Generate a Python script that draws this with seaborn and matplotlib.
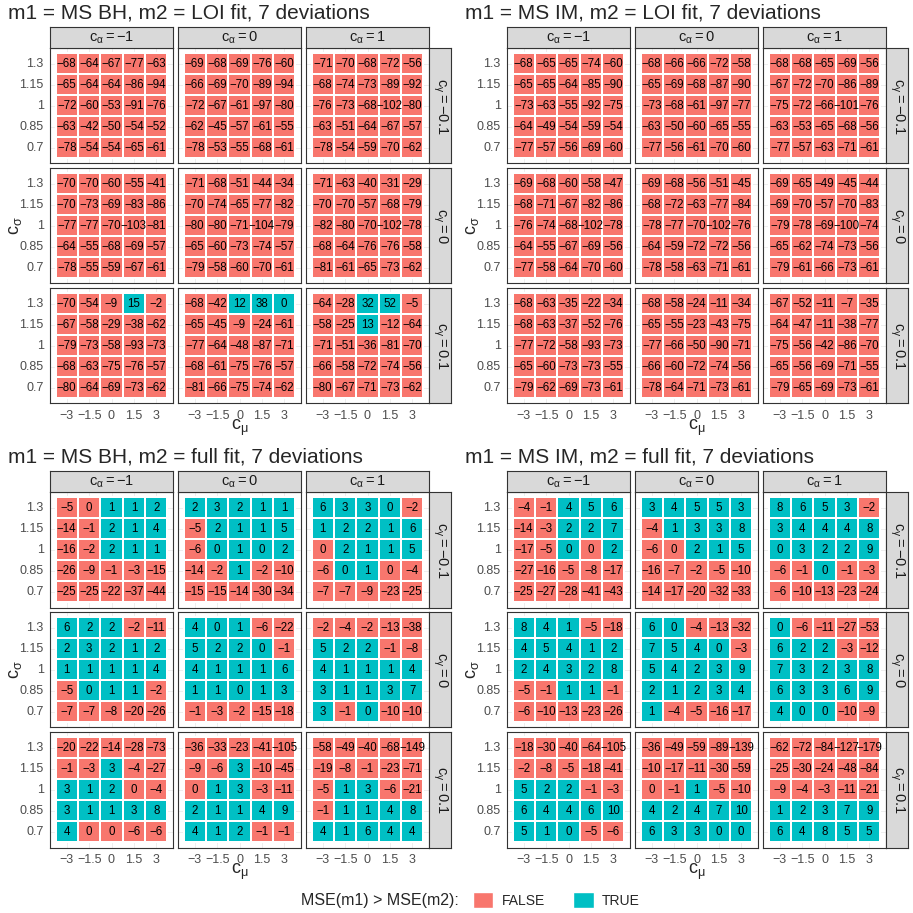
import numpy as np
import pandas as pd
import matplotlib
matplotlib.use("Agg")
import matplotlib.pyplot as plt
from matplotlib.colors import ListedColormap
from matplotlib.patches import Patch
import seaborn as sns

# axes of every facet grid
c_mu = [-3, -1.5, 0, 1.5, 3]
c_sigma = [1.3, 1.15, 1, 0.85, 0.7]
c_alpha = ["-1", "0", "1"]
c_gamma = ["-0.1", "0", "0.1"]

titles = ["m1 = MS BH, m2 = LOI fit, 7 deviations",
          "m1 = MS IM, m2 = LOI fit, 7 deviations",
          "m1 = MS BH, m2 = full fit, 7 deviations",
          "m1 = MS IM, m2 = full fit, 7 deviations"]

# values: [c_gamma row][c_alpha col][c_sigma row][c_mu col]
# +/-0.4 marks a cell printed as 0 but coloured TRUE/FALSE
bh_loi = [
    [[[-68, -64, -67, -77, -63], [-65, -64, -64, -86, -94], [-72, -60, -53, -91, -76], [-63, -42, -50, -54, -52], [-78, -54, -54, -65, -61]],
     [[-69, -68, -69, -76, -60], [-66, -69, -70, -89, -94], [-72, -67, -61, -97, -80], [-62, -45, -57, -61, -55], [-78, -53, -55, -68, -61]],
     [[-71, -70, -68, -72, -56], [-68, -74, -73, -89, -92], [-76, -73, -68, -102, -80], [-63, -51, -64, -67, -57], [-78, -54, -59, -70, -62]]],
    [[[-70, -70, -60, -55, -41], [-70, -73, -69, -83, -86], [-77, -77, -70, -103, -81], [-64, -55, -68, -69, -57], [-78, -55, -59, -67, -61]],
     [[-71, -68, -51, -44, -34], [-70, -74, -65, -77, -82], [-80, -80, -71, -104, -79], [-65, -60, -73, -74, -57], [-79, -58, -60, -70, -61]],
     [[-71, -63, -40, -31, -29], [-70, -70, -57, -68, -79], [-82, -80, -70, -102, -78], [-68, -64, -76, -76, -58], [-81, -61, -65, -73, -62]]],
    [[[-70, -54, -9, 15, -2], [-67, -58, -29, -38, -62], [-79, -73, -58, -93, -73], [-68, -63, -75, -76, -57], [-80, -64, -69, -73, -62]],
     [[-68, -42, 12, 38, 0.4], [-65, -45, -9, -24, -61], [-77, -64, -48, -87, -71], [-68, -61, -75, -76, -57], [-81, -66, -75, -74, -62]],
     [[-64, -28, 32, 52, -5], [-58, -25, 13, -12, -64], [-71, -51, -36, -81, -70], [-66, -58, -72, -74, -56], [-80, -67, -71, -73, -62]]],
]

im_loi = [
    [[[-68, -65, -65, -74, -60], [-65, -65, -64, -85, -90], [-73, -63, -55, -92, -75], [-64, -49, -54, -59, -54], [-77, -57, -56, -69, -60]],
     [[-68, -66, -66, -72, -58], [-65, -69, -68, -87, -90], [-73, -68, -61, -97, -77], [-63, -50, -60, -65, -55], [-77, -56, -61, -70, -60]],
     [[-68, -68, -65, -69, -56], [-67, -72, -70, -86, -89], [-75, -72, -66, -101, -76], [-63, -53, -65, -68, -56], [-77, -57, -63, -71, -61]]],
    [[[-69, -68, -60, -58, -47], [-68, -71, -67, -82, -86], [-76, -74, -68, -102, -78], [-64, -55, -67, -69, -56], [-77, -58, -64, -70, -60]],
     [[-69, -68, -56, -51, -45], [-68, -72, -63, -77, -84], [-78, -77, -70, -102, -76], [-64, -59, -72, -72, -56], [-78, -58, -63, -71, -61]],
     [[-69, -65, -49, -45, -44], [-69, -70, -57, -70, -83], [-79, -78, -69, -100, -74], [-65, -62, -74, -73, -56], [-79, -61, -66, -73, -61]]],
    [[[-68, -63, -35, -22, -34], [-68, -63, -37, -52, -76], [-77, -72, -58, -93, -73], [-65, -60, -73, -73, -55], [-79, -62, -69, -73, -61]],
     [[-68, -58, -24, -11, -34], [-65, -55, -23, -43, -75], [-77, -66, -50, -90, -71], [-66, -60, -72, -74, -56], [-78, -64, -71, -73, -61]],
     [[-67, -52, -11, -7, -35], [-64, -47, -11, -38, -77], [-75, -56, -42, -86, -70], [-65, -56, -69, -71, -55], [-79, -65, -69, -73, -61]]],
]

bh_full = [
    [[[-5, -0.4, 1, 1, 2], [-14, -1, 2, 1, 4], [-16, -2, 2, 1, 1], [-26, -9, -1, -3, -15], [-25, -25, -22, -37, -44]],
     [[2, 3, 2, 1, 1], [-5, 2, 1, 1, 5], [-6, 0.4, 1, 0.4, 2], [-14, -2, 1, -2, -10], [-15, -15, -14, -30, -34]],
     [[6, 3, 3, 0.4, -2], [1, 2, 2, 1, 6], [-0.4, 2, 1, 1, 5], [-6, 0.4, 1, -0.4, -4], [-7, -7, -9, -23, -25]]],
    [[[6, 2, 2, -2, -11], [2, 3, 2, 1, 2], [1, 1, 1, 1, 4], [-5, 0.4, 1, 1, -2], [-7, -7, -8, -20, -26]],
     [[4, 0.4, 1, -6, -22], [5, 2, 2, 0.4, -1], [4, 1, 1, 1, 6], [1, 1, 0.4, 1, 3], [-1, -3, -2, -15, -18]],
     [[-2, -4, -2, -13, -38], [5, 2, 2, -1, -8], [4, 1, 1, 1, 4], [3, 1, 1, 3, 7], [3, -1, 0.4, -10, -10]]],
    [[[-20, -22, -14, -28, -73], [-1, -3, 3, -4, -27], [3, 1, 2, -0.4, -4], [3, 1, 1, 3, 8], [4, -0.4, -0.4, -6, -6]],
     [[-36, -33, -23, -41, -105], [-9, -6, 3, -10, -45], [-0.4, 1, 3, -3, -11], [2, 1, 1, 4, 9], [4, 1, 2, -1, -1]],
     [[-58, -49, -40, -68, -149], [-19, -8, -1, -23, -71], [-5, 1, 3, -6, -21], [-1, 1, 1, 4, 8], [4, 1, 6, 4, 4]]],
]

im_full = [
    [[[-4, -1, 4, 5, 6], [-14, -3, 2, 2, 7], [-17, -5, 0.4, -0.4, 2], [-27, -16, -5, -8, -17], [-25, -27, -28, -41, -43]],
     [[3, 4, 5, 5, 3], [-4, 1, 3, 3, 8], [-6, -0.4, 2, 1, 5], [-16, -7, -2, -5, -10], [-14, -17, -20, -32, -33]],
     [[8, 6, 5, 3, -2], [3, 4, 4, 4, 8], [0.4, 3, 2, 2, 9], [-6, -1, 0.4, -1, -3], [-6, -10, -13, -23, -24]]],
    [[[8, 4, 1, -5, -18], [4, 5, 4, 1, 2], [2, 4, 3, 2, 8], [-5, -1, 1, 1, -1], [-6, -10, -13, -23, -26]],
     [[6, 0.4, -4, -13, -32], [7, 5, 4, 0.4, -3], [5, 4, 2, 3, 9], [2, 1, 2, 3, 4], [1, -4, -5, -16, -17]],
     [[0.4, -6, -11, -27, -53], [6, 2, 2, -3, -12], [7, 3, 2, 3, 8], [6, 3, 3, 6, 9], [4, 0.4, 0.4, -10, -9]]],
    [[[-18, -30, -40, -64, -105], [-2, -8, -5, -18, -41], [5, 2, 2, -1, -3], [6, 4, 4, 6, 10], [5, 1, 0.4, -5, -6]],
     [[-36, -49, -59, -89, -139], [-10, -17, -11, -30, -59], [-0.4, -1, 1, -5, -10], [4, 2, 4, 7, 10], [6, 3, 3, 0.4, 0.4]],
     [[-62, -72, -84, -127, -179], [-25, -30, -24, -48, -84], [-9, -4, -3, -11, -21], [1, 2, 3, 7, 9], [6, 4, 8, 5, 5]]],
]

panels = [bh_loi, im_loi, bh_full, im_full]
origins = [(0, 0), (457, 0), (0, 444), (457, 444)]

RED, TEAL = "#F8766D", "#00BFC4"
DARK, TICKC, GRID, STRIP = "#333333", "#4D4D4D", "#EBEBEB", "#D9D9D9"

sns.set_style("white")
plt.rcParams["font.family"] = ["Liberation Sans", "DejaVu Sans"]
plt.rcParams["mathtext.fontset"] = "custom"
plt.rcParams["mathtext.rm"] = "Liberation Sans"
plt.rcParams["mathtext.it"] = "Liberation Sans:italic"
plt.rcParams["mathtext.default"] = "regular"

W = H = 913
fig = plt.figure(figsize=(W / 100, H / 100), dpi=100)


def px_axes(x, y, w, h):
    return fig.add_axes([x / W, 1 - (y + h) / H, w / W, h / H])


def lab(s):
    return s.replace("-", "\u2212")


def strip(x, y, w, h, text, rot=0):
    sa = px_axes(x, y, w, h)
    sa.set_facecolor(STRIP)
    sa.set_xticks([])
    sa.set_yticks([])
    for sp in sa.spines.values():
        sp.set_visible(True)
        sp.set_color(DARK)
        sp.set_linewidth(0.8)
    sa.text(0.5, 0.5, text, rotation=rot, ha="center", va="center",
            fontsize=10.5, color="#1A1A1A", transform=sa.transAxes)


cmap = ListedColormap([RED, TEAL])
FW, FH, GX, GY = 123, 115.5, 5, 4.5

for vals, title, (ox, oy) in zip(panels, titles, origins):
    fig.text((ox + 8) / W, 1 - (oy + 13) / H, title, fontsize=15,
             ha="left", va="center")
    for i, g in enumerate(c_gamma):
        for j, a in enumerate(c_alpha):
            x0 = ox + 50 + j * (FW + GX)
            y0 = oy + 48 + i * (FH + GY)
            ax = px_axes(x0, y0, FW, FH)
            arr = np.array(vals[i][j], dtype=float)
            df = pd.DataFrame(arr, index=c_sigma, columns=c_mu)
            labels = np.vectorize(lambda v: lab(str(int(round(v)))))(arr)
            # faint panel grid behind the tiles
            for k in range(5):
                ax.axvline(k + 0.5, color=GRID, lw=0.6, zorder=0)
                ax.axhline(k + 0.5, color=GRID, lw=0.6, zorder=0)
            sns.heatmap((df > 0).astype(int), cmap=cmap, vmin=0, vmax=1,
                        annot=labels, fmt="", cbar=False, linewidths=1.2,
                        linecolor="white", ax=ax,
                        annot_kws={"size": 8.3, "color": "black"})
            ax.set_xlim(-0.25, 5.25)
            ax.set_ylim(5.25, -0.25)
            for sp in ax.spines.values():
                sp.set_visible(True)
                sp.set_color(DARK)
                sp.set_linewidth(0.8)
            ax.set_xlabel("")
            ax.set_ylabel("")
            ax.tick_params(length=3, width=0.6, color=DARK, labelcolor=TICKC,
                           labelsize=9, pad=1.5)
            if j == 0:
                ax.set_yticks(np.arange(5) + 0.5)
                ax.set_yticklabels([lab(f"{s:g}") for s in c_sigma], rotation=0)
            else:
                ax.set_yticks([])
            if i == 2:
                ax.set_xticks(np.arange(5) + 0.5)
                ax.set_xticklabels([lab(f"{m:g}") for m in c_mu], rotation=0)
            else:
                ax.set_xticks([])
            if i == 0:
                strip(x0, oy + 27, FW, 21, r"$c_{\alpha} = " + a + "$")
            if j == 2:
                strip(x0 + FW, y0, 22, FH, r"$c_{\gamma} = " + g + "$", rot=-90)
    fig.text((ox + 15) / W, 1 - (oy + 226) / H, r"$c_{\sigma}$",
             rotation=90, ha="center", va="center", fontsize=13)
    fig.text((ox + 240) / W, 1 - (oy + 428) / H, r"$c_{\mu}$",
             ha="center", va="center", fontsize=13)

# legend
fig.text(459 / W, 1 - 900 / H, "MSE(m1) > MSE(m2):", ha="right", va="center",
         fontsize=11.5)
handles = [Patch(facecolor=RED, edgecolor="white"),
           Patch(facecolor=TEAL, edgecolor="white")]
fig.legend(handles, ["FALSE", "TRUE"], ncol=2, frameon=False,
           loc="center left", bbox_to_anchor=(460 / W, 1 - 900 / H),
           fontsize=10, handlelength=1.5, handleheight=1.5,
           columnspacing=2.0, handletextpad=0.6)

fig.savefig("out.png", dpi=100)
